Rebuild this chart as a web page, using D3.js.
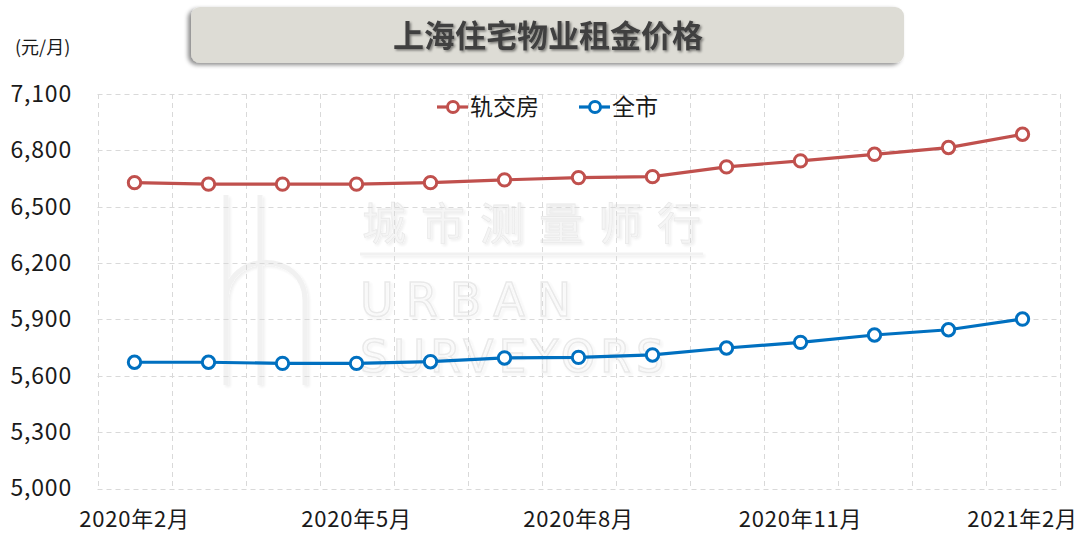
<!DOCTYPE html>
<html><head><meta charset="utf-8">
<script src="https://cdn.jsdelivr.net/npm/d3@7"></script>
<style>
body{margin:0;background:#fff;}
svg{display:block;font-family:"Noto Sans CJK SC","Microsoft YaHei",sans-serif;}
</style></head>
<body>
<svg id="chart" width="1085" height="539"></svg>
<script>
const months = ["2020年2月","2020年3月","2020年4月","2020年5月","2020年6月","2020年7月","2020年8月","2020年9月","2020年10月","2020年11月","2020年12月","2021年1月","2021年2月"];
const metroValues = [6628,6620,6620,6620,6628,6643,6655,6660,6712,6744,6779,6815,6886];
const cityValues  = [5672,5672,5666,5666,5675,5695,5698,5711,5748,5778,5817,5845,5902];
const seriesNames = ["轨交房","全市"];
const seriesColors = ["#c0504d","#0070c0"];
const yTicks = [5000,5300,5600,5900,6200,6500,6800,7100];
const xLabelMonths = ["2020年2月","2020年5月","2020年8月","2020年11月","2021年2月"];
const titleText = "上海住宅物业租金价格";
const unitText = "(元/月)";

const svg = d3.select("#chart");
const defs = svg.append("defs");
const f1 = defs.append("filter").attr("id","boxShadow").attr("x","-5%").attr("y","-30%").attr("width","110%").attr("height","160%");
f1.append("feDropShadow").attr("dx",-3).attr("dy",2).attr("stdDeviation",2).attr("flood-color","#000").attr("flood-opacity",0.45);
const f2 = defs.append("filter").attr("id","textShadow").attr("x","-10%").attr("y","-30%").attr("width","120%").attr("height","160%");
f2.append("feDropShadow").attr("dx",1.5).attr("dy",1.5).attr("stdDeviation",1.2).attr("flood-color","#000").attr("flood-opacity",0.45);
const f3 = defs.append("filter").attr("id","wmShadow");
f3.append("feDropShadow").attr("dx",2).attr("dy",2).attr("stdDeviation",1.5).attr("flood-color","#000").attr("flood-opacity",0.08);

const plotLeft = 97.5, plotRight = 1059.5, plotTop = 94, plotBottom = 488.5;

const x = d3.scaleBand().domain(months).range([plotLeft, plotRight]).paddingInner(0).paddingOuter(0);
const y = d3.scaleLinear().domain([5000,7100]).range([plotBottom, plotTop]);

// title box
svg.append("rect").attr("x",191).attr("y",7).attr("width",713).attr("height",56).attr("rx",9)
  .attr("fill","#dddcd5").attr("filter","url(#boxShadow)");
svg.append("text").attr("x",548).attr("y",47).attr("text-anchor","middle")
  .attr("font-size",31).attr("font-weight",700).attr("fill","#404040")
  .attr("filter","url(#textShadow)").text(titleText);

// unit
svg.append("text").attr("x",15).attr("y",54).attr("font-size",18).attr("fill","#1a1a1a").text(unitText);

// watermark
const wm = svg.append("g").attr("opacity",0.85).attr("filter","url(#wmShadow)");
wm.append("text").attr("x",362).attr("y",240).attr("font-size",44).attr("fill","#f4f4f4")
  .attr("stroke","#e6e6e6").attr("stroke-width",0.8).attr("letter-spacing",15).text("城市测量师行");
wm.append("line").attr("x1",360).attr("x2",703).attr("y1",254).attr("y2",254).attr("stroke","#efefef").attr("stroke-width",3);
wm.append("text").attr("x",360).attr("y",316).attr("font-size",46).attr("fill","none")
  .attr("stroke","#e6e6e6").attr("stroke-width",1.5).attr("letter-spacing",12).attr("font-family","DejaVu Sans").text("URBAN");
wm.append("text").attr("x",360).attr("y",372).attr("font-size",44).attr("fill","none")
  .attr("stroke","#e6e6e6").attr("stroke-width",1.5).attr("letter-spacing",5).attr("font-family","DejaVu Sans").text("SURVEYORS");
wm.append("path").attr("d","M226,195 L226,385 M226,300 C226,250 305,250 305,300 L305,385 M260,195 L260,385")
  .attr("fill","none").attr("stroke","#efefef").attr("stroke-width",5);

// grid
const grid = svg.append("g").attr("stroke","#d9d9d9").attr("stroke-width",1).attr("stroke-dasharray","5,4");
grid.selectAll("line.h").data(yTicks).join("line").attr("class","h")
  .attr("x1",plotLeft).attr("x2",plotRight).attr("y1",d=>Math.round(y(d))+0.5).attr("y2",d=>Math.round(y(d))+0.5);
const vb = months.map(m=>x(m)).concat([plotRight]);
grid.selectAll("line.v").data(vb).join("line").attr("class","v")
  .attr("x1",d=>Math.round(d)+0.5).attr("x2",d=>Math.round(d)+0.5).attr("y1",plotTop).attr("y2",plotBottom);

// y axis
const yAxis = d3.axisLeft(y).tickValues(yTicks).tickFormat(d3.format(",")).tickSize(0).tickPadding(0);
const yg = svg.append("g").attr("transform",`translate(72,0)`).call(yAxis);
yg.select(".domain").remove();
yg.selectAll("text").attr("font-size",23).attr("letter-spacing",0.8).attr("fill","#1a1a1a").attr("font-family","Noto Sans CJK SC");

// x axis
const xAxis = d3.axisBottom(x).tickValues(xLabelMonths).tickSize(0).tickPadding(0);
const xg = svg.append("g").attr("transform",`translate(0,${plotBottom})`).call(xAxis);
xg.select(".domain").remove();
xg.selectAll("text").attr("font-size",22).attr("letter-spacing",0.8).attr("fill","#1a1a1a").attr("font-family","Noto Sans CJK SC").attr("dy","1.75em");

// series
const series = [metroValues, cityValues];
const line = d3.line().x((d,i)=>x(months[i])+x.bandwidth()/2).y(d=>y(d));
series.forEach((vals,si)=>{
  const g = svg.append("g");
  g.append("path").datum(vals).attr("d",line).attr("fill","none")
    .attr("stroke",seriesColors[si]).attr("stroke-width",3.2);
  g.selectAll("circle").data(vals).join("circle")
    .attr("cx",(d,i)=>x(months[i])+x.bandwidth()/2).attr("cy",d=>y(d)).attr("r",6.2)
    .attr("fill","#fff").attr("stroke",seriesColors[si]).attr("stroke-width",3);
});

// legend
const legendX = [437, 579];
const lg = svg.append("g");
seriesNames.forEach((n,i)=>{
  const gx = legendX[i];
  lg.append("line").attr("x1",gx).attr("x2",gx+31).attr("y1",107).attr("y2",107)
    .attr("stroke",seriesColors[i]).attr("stroke-width",3.2);
  lg.append("circle").attr("cx",gx+16).attr("cy",107).attr("r",5.5).attr("fill","#fff")
    .attr("stroke",seriesColors[i]).attr("stroke-width",3);
  lg.append("text").attr("x",gx+33).attr("y",115).attr("font-size",23).attr("fill","#1a1a1a").text(n);
});
</script>
</body></html>
